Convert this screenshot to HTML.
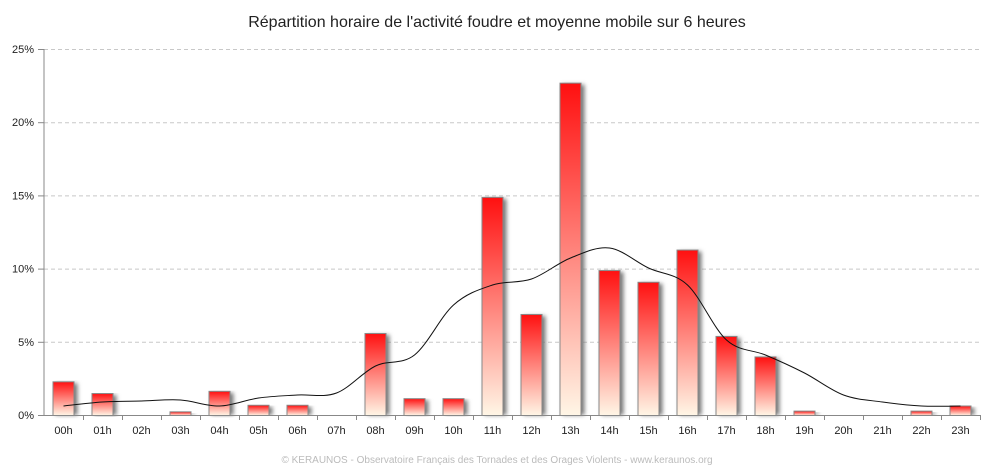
<!DOCTYPE html>
<html><head><meta charset="utf-8"><style>
body{margin:0;background:#fff;width:994px;height:471px;overflow:hidden}
text{font-family:"Liberation Sans","DejaVu Sans",sans-serif}
</style></head><body>
<svg id="s" width="994" height="471" xmlns="http://www.w3.org/2000/svg">
<defs>
<linearGradient id="g" x1="0" y1="0" x2="0" y2="1"><stop offset="0" stop-color="#ff1010"/><stop offset="1" stop-color="#fff6e6"/></linearGradient>
<filter id="sh" x="-30%" y="-10%" width="160%" height="120%"><feGaussianBlur stdDeviation="2"/></filter>
</defs>
<text x="497" y="27" font-size="16" text-anchor="middle" fill="#222">Répartition horaire de l'activité foudre et moyenne mobile sur 6 heures</text>
<g id="grid"></g>
<g id="bars"></g>
<path id="ln" fill="none" stroke="#111" stroke-width="1"/>
<line x1="44" y1="49" x2="44" y2="416" stroke="#888"/>
<line x1="44" y1="415.5" x2="980" y2="415.5" stroke="#888"/>
<g id="ax"></g>
<text x="497" y="463" font-size="10" text-anchor="middle" fill="#bbb">© KERAUNOS - Observatoire Français des Tornades et des Orages Violents - www.keraunos.org</text>
</svg>
<script>
var NS="http://www.w3.org/2000/svg";
function el(p,t,a,txt){var e=document.createElementNS(NS,t);for(var k in a)e.setAttribute(k,a[k]);if(txt!==undefined)e.textContent=txt;document.getElementById(p).appendChild(e);return e;}
var y0=415,u=14.64;
for(var i=0;i<=5;i++){var y=y0-i*5*u;
 if(i>0)el("grid","line",{x1:44,x2:980,y1:y+0.5,y2:y+0.5,stroke:"#c8c8c8","stroke-dasharray":"4,3"});
 el("ax","line",{x1:38,x2:44,y1:y+0.5,y2:y+0.5,stroke:"#888"});
 el("ax","text",{x:34,y:y+4,"font-size":11,"text-anchor":"end",fill:"#222"},(i*5)+"%");}
var v=[2.3,1.5,0,0.25,1.65,0.7,0.7,0,5.6,1.15,1.15,14.9,6.9,22.7,9.9,9.1,11.3,5.4,4.0,0.3,0,0,0.3,0.65];
var L=[406,402,401,400,406,398,395,393,366,355,305,285,279,258,248,268,285,340,355,373,395,402,406,406];
var pts=[];
for(var i=0;i<24;i++){var cx=44+(i+0.5)*39;
 el("ax","line",{x1:44+i*39+39.5,x2:44+i*39+39.5,y1:415,y2:420,stroke:"#888"});
 var lb=(i<10?"0":"")+i+"h";
 el("ax","text",{x:cx,y:434,"font-size":11,"text-anchor":"middle",fill:"#222"},lb);
 var h=v[i]*u;
 if(h>0){el("bars","rect",{x:cx-11+3,y:y0-h+2,width:22,height:h-2,fill:"#777",filter:"url(#sh)"});
 el("bars","rect",{x:cx-11+0.5,y:y0-h+0.5,width:21,height:h,fill:"url(#g)",stroke:"#888","stroke-width":1});}
 pts.push([cx,L[i]]);}
var d="M"+pts[0][0]+","+pts[0][1];
for(var i=0;i<23;i++){var p0=pts[Math.max(0,i-1)],p1=pts[i],p2=pts[i+1],p3=pts[Math.min(23,i+2)];
 d+=" C"+(p1[0]+(p2[0]-p0[0])/6)+","+(p1[1]+(p2[1]-p0[1])/6)+" "+(p2[0]-(p3[0]-p1[0])/6)+","+(p2[1]-(p3[1]-p1[1])/6)+" "+p2[0]+","+p2[1];}
document.getElementById("ln").setAttribute("d",d);
</script>
</body></html>
